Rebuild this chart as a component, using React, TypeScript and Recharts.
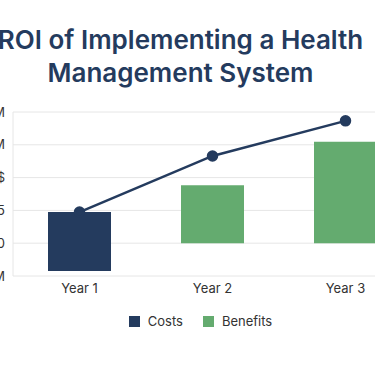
import { Bar, CartesianGrid, ComposedChart, Legend, Line, XAxis, YAxis } from "recharts";

// Values are in y-axis tick steps (one step per gridline).
const years = ["Year 1", "Year 2", "Year 3"];
const costs: (number[] | null)[] = [[-0.85, 0.95], null, null];
const benefits: (number | null)[] = [null, 1.77, 3.09];
const roiLine = [0.95, 2.66, 3.73];

const yTicks = [-1, 0, 1, 2, 3, 4];
const yTickLabels = ["-0.5M", "0", "0.5", "$", "1.5M", "2M"];

const NAVY = "#243b5e";
const GREEN = "#64ab6f";
const TEXT = "#333333";
const GRID = "#e6e6e6";

const legendItems = [
  { name: "Costs", color: NAVY },
  { name: "Benefits", color: GREEN },
];

const data = years.map((year, i) => ({
  year,
  costs: costs[i],
  benefits: benefits[i],
  roi: roiLine[i],
}));

const AXIS_TICK = { fill: TEXT, fontSize: 13, fontFamily: "Inter, sans-serif" } as const;

function LegendContent() {
  return (
    <div
      style={{
        display: "flex",
        justifyContent: "center",
        gap: 20,
        marginLeft: 21,
        fontSize: 13,
        lineHeight: "17px",
        color: TEXT,
        fontFamily: "Inter, sans-serif",
      }}
    >
      {legendItems.map((item) => (
        <div key={item.name} style={{ display: "flex", alignItems: "center", gap: 8 }}>
          <span style={{ width: 11, height: 11, background: item.color, display: "inline-block" }} />
          <span>{item.name}</span>
        </div>
      ))}
    </div>
  );
}

export default function App() {
  return (
    <div
      style={{
        position: "absolute",
        top: 0,
        left: 0,
        width: 375,
        height: 366,
        overflow: "hidden",
        background: "#fff",
        fontFamily: "Inter, sans-serif",
      }}
    >
      <div
        style={{
          position: "absolute",
          left: -100,
          width: 561,
          top: 23,
          textAlign: "center",
          whiteSpace: "nowrap",
          fontSize: 26,
          lineHeight: "33px",
          fontWeight: 600,
          color: NAVY,
        }}
      >
        ROI of Implementing a Health
        <br />
        Management System
      </div>
      <div style={{ position: "absolute", left: -40, top: 100 }}>
        <ComposedChart width={460} height={252} data={data} margin={{ top: 12, right: 8, bottom: 22, left: 0 }}>
          <CartesianGrid xAxisId="main" vertical={false} stroke={GRID} />
          <XAxis
            xAxisId="main"
            dataKey="year"
            tick={AXIS_TICK}
            axisLine={false}
            tickLine={false}
            height={37}
          />
          <XAxis xAxisId="alt" dataKey="year" orientation="top" height={0} hide />
          <YAxis
            domain={[-1, 4]}
            ticks={yTicks}
            interval={0}
            width={53}
            tick={AXIS_TICK}
            tickFormatter={(v: number) => yTickLabels[yTicks.indexOf(v)] ?? ""}
            axisLine={{ stroke: GRID }}
            tickLine={false}
          />
          <Legend verticalAlign="bottom" wrapperStyle={{ left: 0, width: 460 }} content={LegendContent} />
          <Bar xAxisId="main" dataKey="costs" name="Costs" fill={NAVY} barSize={63} isAnimationActive={false} />
          <Bar xAxisId="alt" dataKey="benefits" name="Benefits" fill={GREEN} barSize={63} isAnimationActive={false} />
          <Line
            xAxisId="main"
            type="linear"
            dataKey="roi"
            name="ROI"
            stroke={NAVY}
            strokeWidth={2.5}
            dot={{ r: 4.5, fill: NAVY, stroke: NAVY }}
            legendType="none"
            isAnimationActive={false}
          />
        </ComposedChart>
      </div>
    </div>
  );
}
